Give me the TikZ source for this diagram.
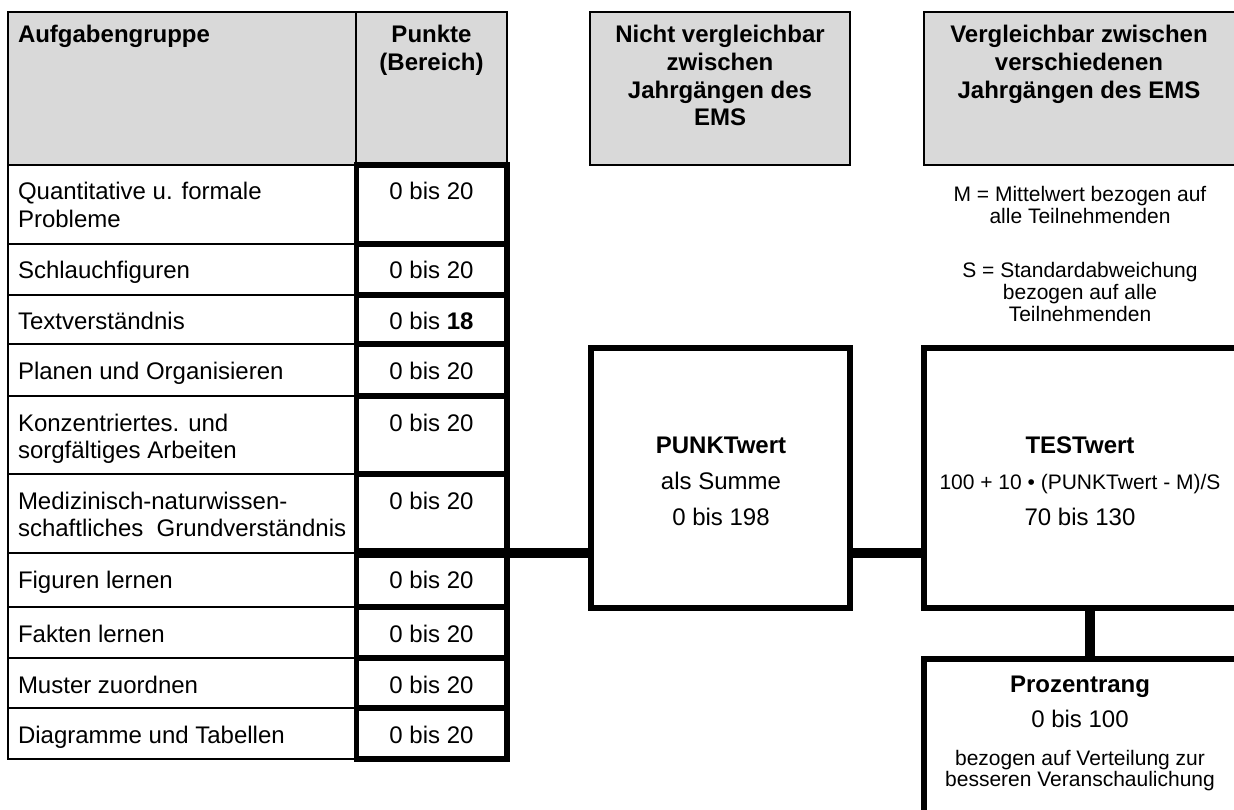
\documentclass[tikz,border=0pt]{standalone}
\usepackage{tikz}
\usepackage{fontspec}
\setmainfont{Liberation Sans}
\newcommand{\txtL}[1]{\begin{tabular}[t]{@{}l@{}}#1\end{tabular}}
\newcommand{\txtC}[1]{\begin{tabular}[t]{@{}c@{}}#1\end{tabular}}
\definecolor{hdrgray}{RGB}{217,217,217}
\begin{document}
\begin{tikzpicture}[x=1pt,y=-1pt,
  box/.style={inner sep=0pt, outer sep=0pt, anchor=north west},
  thin/.style={box, draw, line width=2.5pt},
  hdr/.style={thin, fill=hdrgray},
  pbox/.style={box, draw, line width=5.5pt},
  bigbox/.style={box, draw, line width=6pt},
  conn/.style={line width=10pt},
  tx/.style={inner sep=0pt, outer sep=0pt, font=\fontsize{24}{27.6}\selectfont},
  txL/.style={tx, anchor=base west},
  txC/.style={tx, anchor=base},
  bf/.style={font=\fontsize{24}{27.6}\selectfont\bfseries},
  note/.style={txC, font=\fontsize{21}{21}\selectfont},
]
\useasboundingbox (0,0) rectangle (1234,810);

% table header
\node[hdr, minimum width=348pt, minimum height=153pt] (hA) at (8,12) {};
\node[hdr, minimum width=151pt, minimum height=153pt] (hP) at (356,12) {};
\node[txL, bf] (tA) at (18,43) {Aufgabengruppe};
\node[txC, bf] (tP) at (431.5,43) {\txtC{Punkte\\(Bereich)}};

% table rows: left cells
\foreach \i/\t/\h/\a in {
  1/165/79/{Quantitative u. formale\\Probleme},
  2/244/51/{Schlauchfiguren},
  3/295/49/{Textverständnis},
  4/344/52/{Planen und Organisieren},
  5/396/78/{Konzentriertes. und\\sorgfältiges Arbeiten},
  6/474/79/{Medizinisch-naturwissen-\\schaftliches\ \ Grundverständnis},
  7/553/54/{Figuren lernen},
  8/607/51/{Fakten lernen},
  9/658/50/{Muster zuordnen},
  10/708/51/{Diagramme und Tabellen}}{
  \node[thin, minimum width=348pt, minimum height=\h*1pt] (L\i) at (8,\t) {};
  \node[txL] (tl\i) at (18,\t+35) {\txtL{\a}};
}
% table rows: point cells
\foreach \i/\t/\h/\b in {
  1/165/79/{0 bis 20},
  2/244/51/{0 bis 20},
  3/295/49/{0 bis \textbf{18}},
  4/344/52/{0 bis 20},
  5/396/78/{0 bis 20},
  6/474/79/{0 bis 20},
  7/553/54/{0 bis 20},
  8/607/51/{0 bis 20},
  9/658/50/{0 bis 20},
  10/708/51/{0 bis 20}}{
  \node[pbox, minimum width=150.5pt, minimum height=\h*1pt] (P\i) at (356.5,\t) {};
  \node[txC] (tp\i) at (431.5,\t+35) {\b};
}

% column headers on the right
\node[hdr, minimum width=260pt, minimum height=153pt] (hN) at (590,12) {};
\node[txC, bf] (tN) at (720,43) {\txtC{Nicht vergleichbar\\zwischen\\Jahrgängen des\\EMS}};
\node[hdr, minimum width=330pt, minimum height=153pt] (hV) at (924,12) {};
\node[txC, bf] (tV) at (1079,43) {\txtC{Vergleichbar zwischen\\verschiedenen\\Jahrgängen des EMS}};

% notes
\node[note] (nM) at (1080,202) {\txtC{M = Mittelwert bezogen auf\\alle Teilnehmenden}};
\node[note] (nS) at (1080,278) {\txtC{S = Standardabweichung\\bezogen auf alle\\Teilnehmenden}};

% big boxes
\node[bigbox, minimum width=259pt, minimum height=260.5pt] (pw) at (591,347.5) {};
\node[txC, font=\fontsize{24}{36}\selectfont] (pwt) at (721,453) {\txtC{\textbf{PUNKTwert}\\als Summe\\0 bis 198}};

\node[bigbox, minimum width=340pt, minimum height=260.5pt] (tw) at (924,347.5) {};
\node[txC, font=\fontsize{24}{36}\selectfont] (twt) at (1080,453) {\txtC{\textbf{TESTwert}\\{\fontsize{21}{25}\selectfont 100 + 10 • (PUNKTwert - M)/S}\\70 bis 130}};

\node[bigbox, minimum width=340pt, minimum height=200pt] (pz) at (924,659) {};
\node[txC, font=\fontsize{24}{35}\selectfont] (pzt) at (1080,692) {\txtC{\textbf{Prozentrang}\\0 bis 100}};
\node[txC, font=\fontsize{21}{20.5}\selectfont] (pzn) at (1080,765) {\txtC{bezogen auf Verteilung zur\\besseren Veranschaulichung}};

% connectors
\coordinate (vx) at (1090,0);
\draw[conn] (P6.south west) -- (pw.west |- P6.south west);
\draw[conn] (pw.east |- P6.south west) -- (tw.west |- P6.south west);
\draw[conn] (tw.south -| vx) -- (pz.north -| vx);
\end{tikzpicture}
\end{document}
